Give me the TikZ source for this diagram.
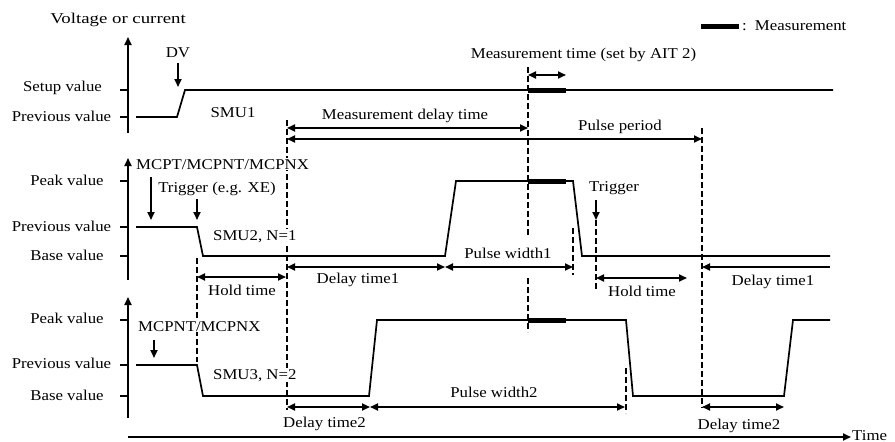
\documentclass[tikz,border=0pt]{standalone}
\usepackage{fontspec}
\setmainfont{Liberation Serif}[FakeStretch=1.12]
\usetikzlibrary{arrows.meta}
\begin{document}
\begin{tikzpicture}[x=1pt,y=-1pt,
  font=\fontsize{15}{18}\selectfont,
  >={Triangle[length=8pt,width=7pt]},
  wave/.style={line width=1.7pt},
  axisline/.style={line width=1.7pt},
  dim/.style={line width=1.7pt},
  guide/.style={line width=1.5pt,dash pattern=on 6pt off 3pt},
  meas/.style={line width=5pt},
  lbl/.style={inner sep=0pt,anchor=base},
  lblw/.style={lbl,anchor=base west},
  wlbl/.style={inner sep=1pt,anchor=base west,fill=white}]
\useasboundingbox (0,0) rectangle (895,442);

% ---------- guide (dashed) lines ----------
\draw[guide] (528,67) -- (528,237);
\draw[guide] (528,278) -- (528,332);
\draw[guide] (287,120) -- (287,410);
\draw[guide] (702,128) -- (702,408);
\draw[guide] (197,258) -- (197,362);
\draw[guide] (573,228) -- (573,275);
\draw[guide] (596,220) -- (596,290);
\draw[guide] (626,368) -- (626,413);

% ---------- axes ----------
\coordinate (a1b) at (128,133); \coordinate (a1t) at (128,37);
\coordinate (a2b) at (128,280); \coordinate (a2t) at (128,158);
\coordinate (a3b) at (128,418); \coordinate (a3t) at (128,297);
\coordinate (tb) at (128,437);  \coordinate (te) at (851,437);
\draw[axisline,->] (a1b) -- (a1t);
\draw[axisline,->] (a2b) -- (a2t);
\draw[axisline,->] (a3b) -- (a3t);
\draw[axisline,->] (tb) -- (te);
\foreach \y in {90,117,181,227,256,320,365,396}
  \draw[axisline] (120,\y) -- (128,\y);

% ---------- axis labels ----------
\node[lbl] (vc) at (118,23) {\scalebox{1.12}[1]{Voltage or current}};
\node[lbl] (su) at (62.5,91) {Setup value};
\node[lbl] (pv1) at (61.5,121) {Previous value};
\node[lbl] (pk2) at (67,185) {Peak value};
\node[lbl] (pv2) at (61.5,231) {Previous value};
\node[lbl] (bv2) at (67,260) {Base value};
\node[lbl] (pk3) at (67,323) {Peak value};
\node[lbl] (pv3) at (61.5,368) {Previous value};
\node[lbl] (bv3) at (67,400) {Base value};
\node[lblw] (time) at (852,440) {Time};

% ---------- legend ----------
\coordinate (lg1) at (701,26); \coordinate (lg2) at (739,26);
\draw[meas] (lg1) -- (lg2);
\node[lblw] (lgt) at (742,30) {:\, Measurement};

% ---------- waveforms ----------
\draw[wave] (136,117) -- (177,117) -- (185,90) -- (833,90);
\draw[wave] (136,227) -- (197,227) -- (203,256) -- (445,256) -- (456,181)
  -- (573,181) -- (582,256) -- (830,256);
\draw[wave] (136,365) -- (197,365) -- (203,396) -- (369,396) -- (377,320)
  -- (626,320) -- (633,396) -- (784,396) -- (793,320) -- (830,320);
\draw[meas] (528,90) -- (566,90);
\draw[meas] (528,181) -- (566,181);
\draw[meas] (528,320) -- (566,320);

% ---------- event arrows ----------
\node[lbl] (dv) at (178,57) {DV};
\draw[dim,->] (178,63) -- (178,87);
\node[wlbl] (mcpt) at (135,169) {MCPT/MCPNT/MCPNX};
\draw[dim,->] (151,177) -- (151,220);
\node[lbl] (trg1) at (217,192) {Trigger (e.g. XE)};
\draw[dim,->] (197,199) -- (197,220);
\node[lbl] (trg2) at (614,191) {Trigger};
\draw[dim,->] (596,200) -- (596,220);
\node[wlbl] (mcpnt) at (137,331) {MCPNT/MCPNX};
\draw[dim,->] (154,340) -- (154,358);

% ---------- SMU labels ----------
\node[lbl] (smu1) at (233,117) {SMU1};
\node[wlbl] (smu2) at (212,240) {SMU2, N=1};
\node[wlbl] (smu3) at (212,379) {SMU3, N=2};

% ---------- dimension arrows ----------
\node[lbl] (mt) at (583.5,58) {Measurement time (set by AIT 2)};
\draw[dim,<->] (528,75) -- (566,75);
\node[lbl] (mdt) at (405,119) {Measurement delay time};
\draw[dim,<->] (287,128) -- (528,128);
\node[lbl] (pp) at (620,130) {Pulse period};
\draw[dim,<->] (287,139) -- (702,139);

\draw[dim,<->] (197,277) -- (286,277);
\node[lbl] (ht1) at (242,295) {Hold time};
\draw[dim,<->] (287,267) -- (445,267);
\node[lbl] (dt1) at (358,283) {Delay time1};
\draw[dim,<->] (445,267) -- (573,267);
\node[lbl] (pw1) at (508,258) {Pulse width1};
\draw[dim,<->] (596,278) -- (687,278);
\node[lbl] (ht2) at (642,296) {Hold time};
\draw[dim,<-] (702,267) -- (830,267);
\node[lbl] (dt1b) at (773,285) {Delay time1};

\draw[dim,<->] (287,407) -- (370,407);
\node[lbl] (dt2) at (324.5,427) {Delay time2};
\draw[dim,<->] (370,407) -- (625,407);
\node[lbl] (pw2) at (494,397) {Pulse width2};
\draw[dim,<->] (702,407) -- (784,407);
\node[lbl] (dt2b) at (739,429) {Delay time2};
\end{tikzpicture}
\end{document}
